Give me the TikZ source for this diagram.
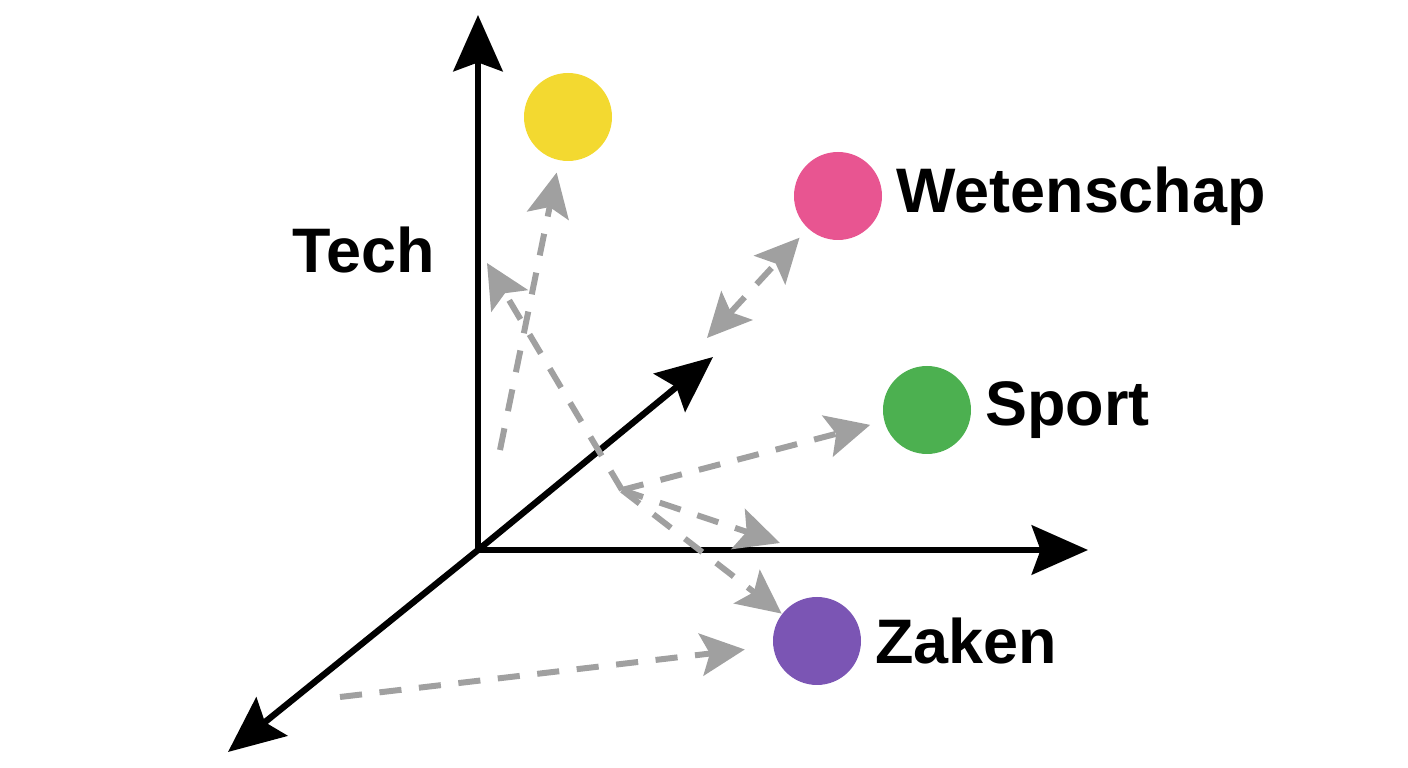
\documentclass[tikz,border=0pt]{standalone}
\usepackage{fontspec}
\setmainfont{Liberation Sans}
\usetikzlibrary{arrows.meta,positioning}

\definecolor{dotyellow}{RGB}{243,217,48}
\definecolor{dotpink}{RGB}{232,85,145}
\definecolor{dotgreen}{RGB}{76,176,80}
\definecolor{dotpurple}{RGB}{123,85,180}
\definecolor{arrowgray}{RGB}{160,160,160}

\tikzset{
    axis/.style={line width=1.8pt, -{Stealth[length=16pt,width=14pt,inset=2.5pt]}},
    move/.style={arrowgray, line width=1.7pt, dash pattern=on 6.3pt off 5pt,
        -{Stealth[length=12.5pt,width=12pt,inset=2.5pt]}},
    dot/.style={circle, minimum size=0.88cm, inner sep=0pt},
    topic/.style={font=\bfseries\fontsize{17.9}{20}\selectfont, inner sep=0pt}
}

\begin{document}
\begin{tikzpicture}
    \useasboundingbox (0,0) rectangle (14.08,7.68);

    % axes
    \coordinate (O) at (4.78,2.18);
    \coordinate (ytip) at (4.78,7.53);
    \coordinate (xtip) at (10.88,2.18);
    \coordinate (zin) at (7.13,4.11);
    \coordinate (zout) at (2.28,0.16);
    \draw[axis] (O) to (ytip);
    \draw[axis] (O) to (xtip);
    \draw[axis] (O) to (zin);
    \draw[axis] (O) to (zout);

    % topics
    \node[dot, fill=dotyellow] (yellow) at (5.68,6.51) {};
    \node[dot, fill=dotpink] (pink) at (8.38,5.72) {};
    \node[dot, fill=dotgreen] (green) at (9.27,3.58) {};
    \node[dot, fill=dotpurple] (purple) at (8.17,1.27) {};

    \node[topic] (tech) at (3.64,5.18) {Tech};
    \node[topic, right=0.13cm of pink] (wetenschap) {Wetenschap};
    \node[topic, right=0.13cm of green] (sport) {Sport};
    \node[topic, right=0.13cm of purple] (zaken) {Zaken};

    % shifts between topics
    \coordinate (ystart) at (5.00,3.18);
    \draw[move, shorten >=0.12cm] (ystart) to (yellow);

    \coordinate (junction) at (6.22,2.78);
    \coordinate (upleft) at (4.87,5.05);
    \coordinate (xhit) at (7.80,2.25);
    \draw[move] (junction) to (upleft);
    \draw[move, shorten >=0.14cm] (junction) to (green);
    \draw[move] (junction) to (xhit);
    \draw[move] (junction) to (purple);

    \coordinate (pstart) at (7.07,4.30);
    \draw[move, {Stealth[length=12.5pt,width=12pt,inset=2.5pt]}-{Stealth[length=12.5pt,width=12pt,inset=2.5pt]}, shorten >=0.12cm] (pstart) to (pink);

    \coordinate (bstart) at (3.40,0.71);
    \draw[move, shorten >=0.28cm] (bstart) to (purple);

\end{tikzpicture}
\end{document}
